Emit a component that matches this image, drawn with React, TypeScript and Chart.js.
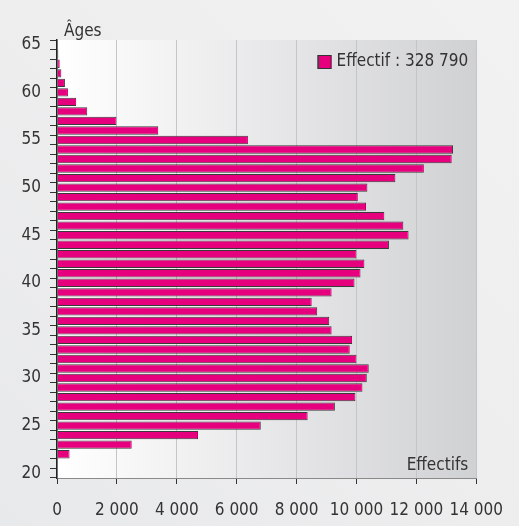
import React, { useEffect, useRef } from "react";
import { Chart, registerables } from "chart.js";

Chart.register(...registerables);

// Age categories (top to bottom)
const AGES = [
  "65", "64", "63", "62", "61", "60", "59", "58", "57", "56",
  "55", "54", "53", "52", "51", "50", "49", "48", "47", "46",
  "45", "44", "43", "42", "41", "40", "39", "38", "37", "36",
  "35", "34", "33", "32", "31", "30", "29", "28", "27", "26",
  "25", "24", "23", "22", "21", "20",
];

// Headcount per age (same order as AGES)
const EFFECTIFS = [
  0, 45, 90, 145, 265, 365, 640, 1010, 1985, 3380,
  6375, 13225, 13180, 12250, 11300, 10365, 10045, 10320, 10930, 11565,
  11740, 11085, 10000, 10265, 10135, 9935, 9170, 8505, 8690, 9090,
  9170, 9855, 9775, 10000, 10410, 10345, 10200, 9965, 9280, 8370,
  6805, 4710, 2495, 420, 0, 0,
];

const LEGEND_LABEL = "Effectif : 328 790";
const Y_TITLE = "Âges";
const X_TITLE = "Effectifs";
const X_MIN = 0;
const X_MAX = 14000;
const X_STEP = 2000;

const FONT_FAMILY = "'Liberation Sans Narrow', 'DejaVu Sans Condensed', 'Liberation Sans', sans-serif";
const TEXT_COLOR = "#333333";
const BAR_COLOR = "#e6007e";
const FONT_SIZE = 17;

const fmtThousands = (v: number) => {
  if (v < 1000) return String(v);
  const th = Math.floor(v / 1000);
  const rest = String(v % 1000).padStart(3, "0");
  return `${th} ${rest}`;
};

const decorPlugin = {
  id: "decor",
  beforeDraw(chart: any) {
    const { ctx, width, height, chartArea } = chart;
    ctx.save();
    const bg = ctx.createLinearGradient(0, height, width, 0);
    bg.addColorStop(0, "#e8e9ea");
    bg.addColorStop(1, "#f2f2f2");
    ctx.fillStyle = bg;
    ctx.fillRect(0, 0, width, height);
    const g = ctx.createLinearGradient(chartArea.left, 0, chartArea.right, 0);
    g.addColorStop(0, "#ffffff");
    g.addColorStop(1, "#d0d1d3");
    ctx.fillStyle = g;
    ctx.fillRect(chartArea.left, chartArea.top, chartArea.right - chartArea.left, chartArea.bottom - chartArea.top);
    ctx.restore();
  },
  afterDraw(chart: any) {
    const { ctx, chartArea } = chart;
    ctx.save();
    ctx.fillStyle = TEXT_COLOR;
    ctx.font = `${FONT_SIZE}px ${FONT_FAMILY}`;
    // Y title
    ctx.textAlign = "left";
    ctx.textBaseline = "alphabetic";
    ctx.fillText(Y_TITLE, chartArea.left + 7, chartArea.top - 4);
    // X title
    ctx.textAlign = "right";
    ctx.fillText(X_TITLE, chartArea.right - 8, chartArea.bottom - 8);
    // Legend
    const label = chart.data.datasets[0].label;
    const tw = ctx.measureText(label).width;
    const tx = chartArea.right - 8;
    const ty = chartArea.top + 22;
    ctx.textBaseline = "middle";
    ctx.fillText(label, tx, ty);
    const bx = tx - tw - 5 - 14;
    ctx.fillStyle = BAR_COLOR;
    ctx.fillRect(bx, ty - 7, 14, 14);
    ctx.strokeStyle = "#333";
    ctx.lineWidth = 1;
    ctx.strokeRect(bx + 0.5, ty - 6.5, 13, 13);
    ctx.restore();
  },
};

export default function App() {
  const ref = useRef<HTMLCanvasElement>(null);

  useEffect(() => {
    document.body.style.margin = "0";
    document.body.style.overflow = "hidden";
    const canvas = ref.current;
    if (!canvas) return;
    const chart = new Chart(canvas, {
      type: "bar",
      data: {
        labels: AGES,
        datasets: [
          {
            label: LEGEND_LABEL,
            data: EFFECTIFS,
            backgroundColor: BAR_COLOR,
            borderColor: "#3a3a3a",
            borderWidth: 1,
            borderSkipped: "left",
            barPercentage: 0.88,
            categoryPercentage: 1,
          },
        ],
      },
      options: {
        indexAxis: "y",
        animation: false,
        responsive: false,
        maintainAspectRatio: false,
        layout: { padding: { top: 40, right: 41, left: 0, bottom: 0 } },
        plugins: {
          legend: { display: false },
          tooltip: { enabled: false },
        },
        scales: {
          x: {
            type: "linear",
            min: X_MIN,
            max: X_MAX,
            afterFit: (s: any) => {
              s.height = 48;
            },
            ticks: {
              stepSize: X_STEP,
              autoSkip: false,
              maxRotation: 0,
              minRotation: 0,
              color: TEXT_COLOR,
              font: { family: FONT_FAMILY, size: FONT_SIZE },
              padding: 16,
              callback: (v: any) => fmtThousands(Number(v)),
            },
            grid: {
              color: "#c4c5c7",
              lineWidth: 1,
              drawTicks: true,
              tickLength: 6,
              tickColor: "#333",
            },
            border: { display: true, color: "#8a8a8a", width: 1 },
          },
          y: {
            type: "category",
            offset: true,
            afterFit: (s: any) => {
              s.width = 57;
            },
            ticks: {
              autoSkip: false,
              color: TEXT_COLOR,
              font: { family: FONT_FAMILY, size: FONT_SIZE },
              padding: 9,
              callback: function (this: any, _v: any, i: number) {
                const lab = AGES[i];
                return Number(lab) % 5 === 0 ? lab : "";
              },
            },
            grid: {
              offset: true,
              drawOnChartArea: false,
              drawTicks: true,
              tickLength: 7,
              tickColor: "#333",
              color: "#333",
            },
            border: { display: true, color: "#222", width: 1.5 },
          },
        },
      },
      plugins: [decorPlugin],
    });
    return () => chart.destroy();
  }, []);

  return (
    <div style={{ width: 519, height: 526 }}>
      <canvas ref={ref} width={519} height={526} style={{ display: "block" }} />
    </div>
  );
}
